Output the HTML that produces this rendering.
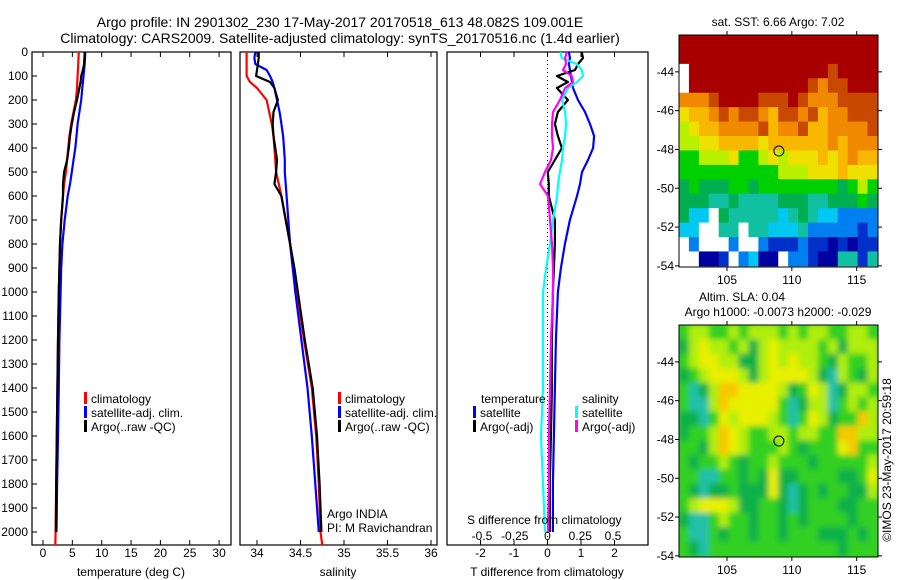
<!DOCTYPE html>
<html><head><meta charset="utf-8"><style>
html,body{margin:0;padding:0;background:#fff;}
svg{display:block;font-family:"Liberation Sans",sans-serif;}
</style></head><body>
<svg id="fig" width="900" height="580" viewBox="0 0 900 580" xmlns="http://www.w3.org/2000/svg">
<defs><filter id="blur" x="0" y="0" width="1" height="1"><feGaussianBlur stdDeviation="3"/></filter>
<clipPath id="clipSla"><rect x="679" y="325" width="199" height="232"/></clipPath></defs>
<text x="340" y="27" font-size="14" text-anchor="middle">Argo profile: IN 2901302_230 17-May-2017 20170518_613 48.082S 109.001E</text>
<text x="340" y="43" font-size="14" text-anchor="middle">Climatology: CARS2009. Satellite-adjusted climatology: synTS_20170516.nc (1.4d earlier)</text>
<g id="g"></g>
</svg>
<script>
const depths=[0,25,50,75,100,125,150,200,250,300,350,400,450,500,550,600,700,800,900,1000,1200,1400,1600,1800,2000];
const tempClim=[6.1,6.05,6.0,5.95,5.9,5.85,5.8,5.6,5.2,4.8,4.5,4.3,4.1,3.9,3.6,3.4,3.1,2.9,2.8,2.7,2.55,2.45,2.35,2.25,2.15];
const tempSat=[7.2,7.15,7.1,7.0,6.9,6.8,6.7,6.5,6.2,5.9,5.7,5.5,5.2,4.9,4.6,4.2,3.7,3.3,3.1,3.0,2.8,2.7,2.55,2.4,2.3];
const tempArgo=[7.1,7.05,7.0,6.8,6.5,6.4,6.2,5.8,5.3,4.9,4.6,4.4,4.1,3.6,3.4,3.4,3.1,2.9,2.8,2.7,2.55,2.45,2.35,2.25,2.2];
const salClim=[33.88,33.88,33.88,33.88,33.88,33.92,34.0,34.11,34.14,34.17,34.19,34.2,34.21,34.22,34.25,34.28,34.33,34.38,34.42,34.46,34.54,34.63,34.68,34.71,34.73];
const salSat=[33.98,33.97,33.98,34.11,34.15,34.18,34.2,34.23,34.26,34.28,34.3,34.31,34.32,34.32,34.33,34.34,34.36,34.38,34.41,34.44,34.51,34.58,34.63,34.67,34.71];
const salArgo=[34.02,34.02,34.01,34.0,33.99,34.15,34.2,34.24,34.19,34.18,34.19,34.21,34.23,34.22,34.2,34.28,34.33,34.38,34.43,34.47,34.55,34.64,34.69,34.72,34.74];
const dTSat=[0.64,0.67,0.64,0.67,0.70,0.73,0.76,0.91,1.12,1.27,1.39,1.36,1.21,1.03,0.97,0.88,0.67,0.52,0.40,0.31,0.25,0.22,0.19,0.16,0.16];
const dTArgo=[1.02,1.06,0.91,0.82,0.28,0.61,0.28,0.61,0.31,0.22,0.31,0.43,0.22,0.01,0.04,0.04,0.22,0.22,0.19,0.16,0.13,0.13,0.10,0.07,0.07];
const dSSat=[0.10,0.108,0.223,0.261,0.271,0.225,0.156,0.111,0.134,0.141,0.134,0.118,0.111,0.095,0.08,0.073,0.042,0.019,-0.011,-0.034,-0.034,-0.034,-0.05,-0.034,-0.019];
const dSArgo=[0.147,0.134,0.141,0.118,0.185,0.195,0.134,0.095,0.042,0.034,0.034,0.042,0.027,-0.019,-0.057,0.004,0.019,0.034,0.042,0.042,0.027,0.019,0.011,0.011,0.004];
const depthTicks=[0,100,200,300,400,500,600,700,800,900,1000,1100,1200,1300,1400,1500,1600,1700,1800,1900,2000];
const tempTicks=[0,5,10,15,20,25,30];
const salTicks=[34,34.5,35,35.5,36];
const dTTicks=[-2,-1,0,1,2];
const dSTicks=[-0.5,-0.25,0,0.25,0.5];
const lonTicks=[105,110,115];
const latTicks=[-44,-46,-48,-50,-52,-54];
const sstGrid=[
"RRRRRRRRRRRRRRRRRRRR","RRRRRRRRRRRRRRRRRRRR",".RRRRRRRRRRRRRRBRRRR",".RRRRRRRRRRRRBOBBRRR",
"OOOBRRRRBBBRBOOOBBBB","YooOBOBBOoBBOBoOOBBB","yYooOOOOBoOOBooOOOOB","yyYYooooYooooooOoOOO",
"GGyyyYGGyYyYYYoYoOoo","GGGGGGGGGGyyyYYYoYYY","gGgggGGgGGGGGGGGgGyG","gggTTgTTTTgggTTgggGg",
"gCC.gTTTTTCTgTCCbbbb","CC..TT.TTCCCTbbbbbDb",".b...b..bDDDbDDNDNDD","..NND.bCNN.bbDNNTTDT"];
const slaGrid=[
"GyyGGyGyyyGyGyyGGyyG","gyYyyGygyYyyyyGygyyy","GyYYyyggyYyYyyGgyGGy","gGyYYYygyYYYYygTyGgy",
"GTgyOOYYYYygGYyTgyyG","GTTyOYYYYYGTgyyTGyGy","ggTGYyYYYyGTGYygGGOy","gGGyOYyGGyyGyyGGOOyy",
"GGgyOYyGGGyGgGGGYOGG","GgGGyGgGGyGGGgGGGGGy","GGTTGGgGgYggGGGGggGY","GgTggGgggYgTgGgGGggy",
"GyYYYyggGGgTgGGGggGG","gTTGyGGgGGgGgGGGGgGG","GTTGgGGgGGgGGGgggGgG","GgTGGGGGGGGGGGGGgGGG"];
const sstCols={R:"#a80000",B:"#c84800",O:"#f08800",o:"#f8b800",Y:"#f0e000",y:"#b8f000",G:"#00d000",g:"#00b050",T:"#10c0a0",C:"#00c8f0",b:"#0080f0",D:"#0030c8",N:"#0000a0",".":"#ffffff"};
const slaCols={G:"#30d020",g:"#10b048",T:"#20c0a8",Y:"#e8f000",y:"#b0ee10",O:"#f8c800"};

const NS="http://www.w3.org/2000/svg",G=document.getElementById('g');
function el(t,a,p){const e=document.createElementNS(NS,t);for(const k in a)e.setAttribute(k,a[k]);(p||G).appendChild(e);return e;}
const yD=d=>52+d*0.24;
const xT=v=>43+v*5.87, xS=v=>257+(v-34)*87, xDT=v=>547.5+v*33.5, xDS=v=>547.5+v*131;
const P=[[32,231],[240,437],[447,648]];
P.forEach((p,i)=>{const r=el('rect',{x:p[0],y:52,width:p[1]-p[0],height:493,fill:'none',stroke:'#000','stroke-width':1.2});
});
depthTicks.forEach(d=>{const t=el('text',{x:28,y:yD(d)+4,'font-size':12,'text-anchor':'end'});t.textContent=d;

el('line',{x1:32,x2:37,y1:yD(d),y2:yD(d),stroke:'#000'});});
function xaxis(ticks,f,lab,title,cx){ticks.forEach(v=>{const x=f(v);el('line',{x1:x,x2:x,y1:52,y2:57,stroke:'#000'});el('line',{x1:x,x2:x,y1:545,y2:540,stroke:'#000'});
const t=el('text',{x:x,y:557,'font-size':12,'text-anchor':'middle'});t.textContent=v;});
const t=el('text',{x:cx,y:576,'font-size':12,'text-anchor':'middle'});t.textContent=title;}
xaxis(tempTicks,xT,'temp-tick-label','temperature (deg C)',131);
xaxis(salTicks,xS,'salinity-tick-label','salinity',338);
xaxis(dTTicks,xDT,'tdiff-tick-label','T difference from climatology',547);
dSTicks.forEach(v=>{const t=el('text',{x:xDS(v),y:540,'font-size':12,'text-anchor':'middle'});t.textContent=v;
});
el('line',{x1:547.5,x2:547.5,y1:52,y2:545,stroke:'#000','stroke-dasharray':'1,3'});
function line(vals,f,col,name,ext){let pts=depths.map((d,i)=>f(vals[i]).toFixed(1)+','+yD(d).toFixed(1));if(ext)pts.push(f(ext[1]).toFixed(1)+','+yD(ext[0]).toFixed(1));
const e=el('polyline',{points:pts.join(' '),fill:'none',stroke:col,'stroke-width':2.2,'stroke-linejoin':'round'});
}
line(tempClim,xT,'#f00','temp-climatology-line',[2055,2.1]);
line(tempSat,xT,'#00f','temp-satellite-line');
line(tempArgo,xT,'#000','temp-argo-line');
line(salClim,xS,'#f00','salinity-climatology-line',[2055,34.75]);
line(salSat,xS,'#00f','salinity-satellite-line');
line(salArgo,xS,'#000','salinity-argo-line');
line(dTSat,xDT,'#00f','tdiff-satellite-line');
line(dTArgo,xDT,'#000','tdiff-argo-line');
line(dSSat,xDS,'#0ff','sdiff-satellite-line');
line(dSArgo,xDS,'#f0f','sdiff-argo-line');
function leg(x,y,col,txt,name){if(col)el('rect',{x:x,y:y-6,width:3,height:12,fill:col});const t=el('text',{x:x+(col?7:0),y:y+5,'font-size':12});t.textContent=txt;
}
[[84,'#f00','climatology'],[84,'#00f','satellite-adj. clim.'],[84,'#000','Argo(..raw -QC)']].forEach((a,i)=>{leg(a[0],398+i*14,a[1],a[2],'temp-legend-entry');leg(338,398+i*14,a[1],a[2],'salinity-legend-entry');});
leg(481,398,null,'temperature','tdiff-legend-title');leg(582,398,null,'salinity','sdiff-legend-title');
leg(473,412,'#00f','satellite','tdiff-legend-satellite');leg(473,426,'#000','Argo(-adj)','tdiff-legend-argo');
leg(575,412,'#0ff','satellite','sdiff-legend-satellite');leg(575,426,'#f0f','Argo(-adj)','sdiff-legend-argo');
leg(327,513,null,'Argo INDIA','argo-india-note');leg(327,527,null,'PI: M Ravichandran','pi-note');
leg(467,519,null,'S difference from climatology','sdiff-axis-title');
const mx=l=>679+(l-101.3)*12.97, my=(y0,la)=>y0+(-42.1-la)*19.4;
function map(y0,grid,cols,name,blur){const gg=el('g',blur?{filter:'url(#blur)','clip-path':'url(#clipSla)'}:{});
const nr=grid.length,nc=grid[0].length,lon0=101.3,lon1=116.6,la0=-42.1,la1=-54;
if(blur)el('rect',{x:670,y:y0-10,width:220,height:252,fill:cols.G},gg);
grid.forEach((row,r)=>{for(let c=0;c<nc;c++){const loA=lon0+(lon1-lon0)*c/nc,loB=lon0+(lon1-lon0)*(c+1)/nc,lA=la0+(la1-la0)*r/nr,lB=la0+(la1-la0)*(r+1)/nr;
const cell=el('rect',{x:mx(loA),y:my(y0,lA),width:mx(loB)-mx(loA)+0.5,height:my(y0,lB)-my(y0,lA)+0.5,fill:cols[row[c]]},gg);
}});
el('rect',{x:679,y:y0,width:199,height:232,fill:'none',stroke:'#000'});
lonTicks.forEach(l=>{el('line',{x1:mx(l),x2:mx(l),y1:y0,y2:y0-4,stroke:'#000'});el('line',{x1:mx(l),x2:mx(l),y1:y0+232,y2:y0+236,stroke:'#000'});
const t=el('text',{x:mx(l),y:y0+249,'font-size':12,'text-anchor':'middle'});t.textContent=l;});
latTicks.forEach(la=>{const y=my(y0,la);el('line',{x1:878,x2:882,y1:y,y2:y,stroke:'#000'});el('line',{x1:679,x2:675,y1:y,y2:y,stroke:'#000'});
const t=el('text',{x:674,y:y+4,'font-size':12,'text-anchor':'end'});t.textContent=la;});
const c=el('circle',{cx:mx(109.0),cy:my(y0,-48.08),r:5,fill:'none',stroke:'#000'});}
map(35,sstGrid,sstCols,'sst-map',false);
map(325,slaGrid,slaCols,'sla-map',true);
function tx(x,y,s,name,extra){const t=el('text',Object.assign({x:x,y:y,'font-size':12,'text-anchor':'middle'},extra||{}));t.textContent=s;}
tx(778,26,'sat. SST: 6.66 Argo: 7.02','sst-map-title');
tx(742,301,'Altim. SLA: 0.04','sla-map-title');
tx(778,316,'Argo h1000: -0.0073 h2000: -0.029','sla-map-subtitle');
tx(891,460,'©IMOS 23-May-2017 20:59:18','imos-credit',{transform:'rotate(-90 891 460)'});
</script>
</body></html>
